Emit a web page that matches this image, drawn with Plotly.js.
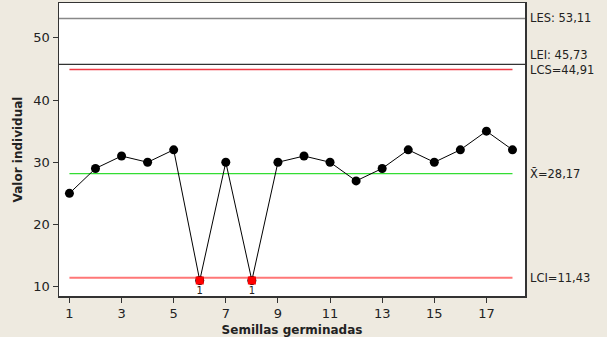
<!DOCTYPE html>
<html>
<head>
<meta charset="utf-8">
<script src="https://cdn.plot.ly/plotly-3.0.1.min.js"></script>
<style>html,body{margin:0;padding:0;background:#EEEAE0;}#chart{width:607px;height:337px;}</style>
</head>
<body>
<div id="chart"></div>
<script>
const samples = [1,2,3,4,5,6,7,8,9,10,11,12,13,14,15,16,17,18];
const values = [25,29,31,30,32,11,30,11,30,31,30,27,29,32,30,32,35,32];
const LES = 53.11, LEI = 45.73, LCS = 44.91, MEAN = 28.17, LCI = 11.43;
const xTicks = [1,3,5,7,9,11,13,15,17];
const yTicks = [10,20,30,40,50];

const outX = [], outY = [];
samples.forEach((s,i)=>{ if (values[i] < LCI || values[i] > LCS) { outX.push(s); outY.push(values[i]); } });
const xEnds = [samples[0], samples[samples.length-1]];

const font = "DejaVu Sans, Tahoma, sans-serif";
const traces = [
  {x: xEnds, y: [LCS,LCS], mode:'lines', line:{color:'#EE3B45', width:1.5}, hoverinfo:'skip'},
  {x: xEnds, y: [MEAN,MEAN], mode:'lines', line:{color:'#33DD33', width:1.2}, hoverinfo:'skip'},
  {x: xEnds, y: [LCI,LCI], mode:'lines', line:{color:'#FF7777', width:2}, hoverinfo:'skip'},
  {x: samples, y: values, mode:'lines+markers', line:{color:'#000000', width:1},
   marker:{symbol:'circle', size:9, color:'#000000'}},
  {x: outX, y: outY, mode:'markers+text', marker:{symbol:'square', size:8, color:'#FF0000'},
   text: outX.map(()=> '1'), textposition:'bottom center', textfont:{family:font, size:10, color:'#222'}}
];

const ann = (y, txt, yshift) => ({xref:'paper', yref:'y', x:1, y:y, xanchor:'left', yanchor:'middle',
  xshift:3, yshift:yshift||0, text:txt, showarrow:false, font:{family:font, size:11.5, color:'#222'}});

const layout = {
  width:607, height:337, showlegend:false,
  paper_bgcolor:'#EEEAE0', plot_bgcolor:'#FFFFFF',
  margin:{l:59, r:82, t:3, b:41},
  font:{family:font, size:12, color:'#222'},
  xaxis:{range:[0.6,18.48], tickvals:xTicks, ticktext:xTicks.map(String), ticks:'outside', ticklen:5,
    tickcolor:'#333', showgrid:false, zeroline:false, showline:true, linecolor:'#333', linewidth:1.5, mirror:true,
    tickfont:{family:font, size:13, color:'#222'},
    title:{text:'<b>Semillas germinadas</b>', font:{family:font, size:12, color:'#222'}, standoff:5}},
  yaxis:{range:[8.5,55.6], tickvals:yTicks, ticktext:yTicks.map(String), ticks:'outside', ticklen:5,
    tickcolor:'#333', showgrid:false, zeroline:false, showline:true, linecolor:'#333', linewidth:1.5, mirror:true,
    tickfont:{family:font, size:13, color:'#222'},
    title:{text:'<b>Valor individual</b>', font:{family:font, size:12, color:'#222'}, standoff:8}},
  shapes:[
    {type:'line', xref:'paper', yref:'y', x0:0, x1:1, y0:LES, y1:LES, line:{color:'#888888', width:1.5}},
    {type:'line', xref:'paper', yref:'y', x0:0, x1:1, y0:LEI, y1:LEI, line:{color:'#333333', width:1.2}}
  ],
  annotations:[
    ann(LES, 'LES: 53,11'),
    ann(LEI, 'LEI: 45,73', 9),
    ann(LCS, 'LCS=44,91'),
    ann(MEAN, 'X\u0304=28,17'),
    ann(LCI, 'LCI=11,43')
  ]
};
Plotly.newPlot('chart', traces, layout, {displayModeBar:false, staticPlot:true});
</script>
</body>
</html>
